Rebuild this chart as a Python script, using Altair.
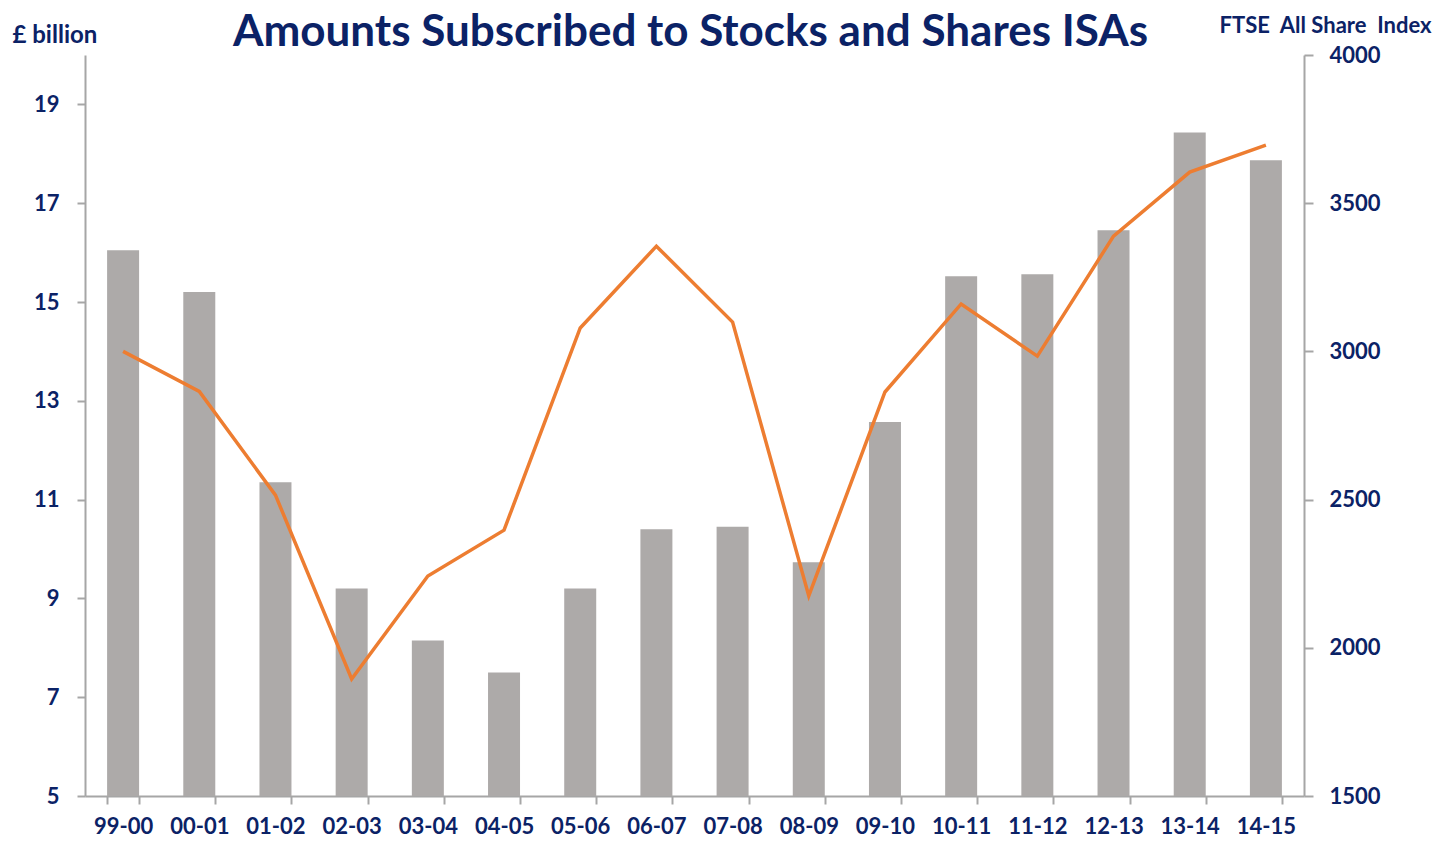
import altair as alt
import pandas as pd

years = ["99-00", "00-01", "01-02", "02-03", "03-04", "04-05", "05-06", "06-07",
         "07-08", "08-09", "09-10", "10-11", "11-12", "12-13", "13-14", "14-15"]
subscribed = [16.05, 15.2, 11.35, 9.2, 8.15, 7.5, 9.2, 10.4,
              10.45, 9.73, 12.57, 15.52, 15.56, 16.45, 18.43, 17.87]
ftse = [3000, 2865, 2515, 1895, 2242, 2397, 3079, 3355,
        3099, 2175, 2863, 3160, 2984, 3389, 3605, 3696]

df = pd.DataFrame({"year": years, "subscribed": subscribed, "ftse": ftse})

NAVY = "#0B2266"
GREY = "#A6A6A6"
FONT = "Lato"

x = alt.X("year:N", sort=years,
          scale=alt.Scale(paddingInner=0.58, paddingOuter=0.29),
          axis=alt.Axis(title=None, labelAngle=0, tickBand="extent",
                        labelFontSize=22, labelFont=FONT, labelFontWeight="bold",
                        labelColor=NAVY, labelPadding=12, tickSize=8,
                        tickColor=GREY, tickWidth=2, domainColor=GREY, domainWidth=2))

bars = alt.Chart(df).mark_bar(color="#ADAAA9", clip=True).encode(
    x=x,
    y=alt.Y("subscribed:Q",
            scale=alt.Scale(domain=[5, 20], nice=False, zero=False),
            axis=alt.Axis(title="£ billion", titleAngle=0, titleX=-73, titleY=-20,
                          titleAlign="left", titleBaseline="middle",
                          titleFontSize=24, titleFont=FONT, titleFontWeight="bold",
                          titleColor=NAVY,
                          values=[5, 7, 9, 11, 13, 15, 17, 19], grid=False,
                          labelFontSize=22, labelFont=FONT, labelFontWeight="bold",
                          labelColor=NAVY, labelPadding=18, tickSize=8,
                          tickColor=GREY, tickWidth=2, domainColor=GREY, domainWidth=2))
)

line = alt.Chart(df).mark_line(color="#ED7D31", strokeWidth=3.5).encode(
    x=x,
    y=alt.Y("ftse:Q",
            scale=alt.Scale(domain=[1500, 4000], nice=False, zero=False),
            axis=alt.Axis(title="FTSE\u00a0 All Share\u00a0 Index", orient="right",
                          titleAngle=0, titleX=127, titleY=-30, titleAlign="right",
                          titleBaseline="middle",
                          titleFontSize=22, titleFont=FONT, titleFontWeight="bold",
                          titleColor=NAVY, format="d",
                          values=[1500, 2000, 2500, 3000, 3500, 4000], grid=False,
                          labelFontSize=22, labelFont=FONT, labelFontWeight="bold",
                          labelColor=NAVY, labelPadding=16, tickSize=9,
                          tickColor=GREY, tickWidth=2, domainColor=GREY, domainWidth=2))
)

chart = alt.layer(bars, line).resolve_scale(y="independent").properties(
    width=1219, height=741,
    title=alt.TitleParams("Amounts Subscribed to Stocks and Shares ISAs",
                          fontSize=44, font=FONT, fontWeight="bold", color=NAVY,
                          anchor="middle", frame="group", offset=8, dy=49, dx=-4),
    autosize=alt.AutoSizeParams(type="none"),
    padding={"left": 77, "top": 47, "right": 128, "bottom": 42},
).configure_view(stroke=None)

chart.save("out.html", embed_options={"renderer": "svg", "actions": False})
